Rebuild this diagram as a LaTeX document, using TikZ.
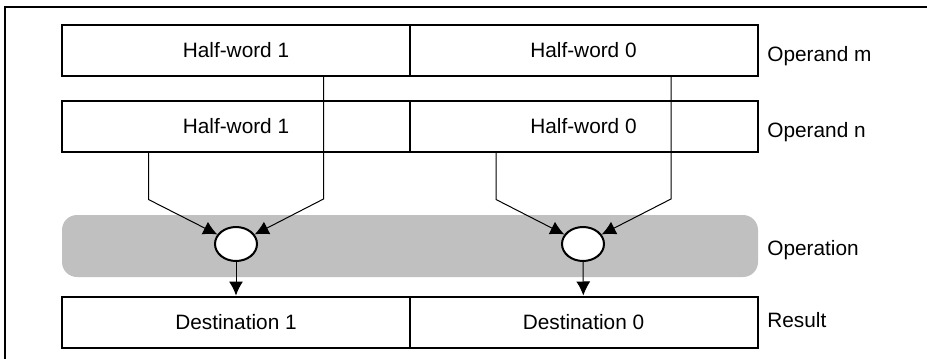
\documentclass[tikz,border=0pt]{standalone}
\usepackage{fontspec}
\setmainfont{Liberation Sans}
\usetikzlibrary{shapes.geometric,arrows.meta,calc}

\definecolor{bandgray}{HTML}{C0C0C0}

\begin{document}
\begin{tikzpicture}[x=0.5pt, y=-0.5pt,
        font=\fontsize{10.4}{12}\selectfont,
        >={Latex[length=7pt,width=7pt]},
        half/.style={draw, rectangle, line width=1pt, minimum width=174pt, minimum height=25.5pt, inner sep=0pt},
        op/.style={draw, ellipse, fill=white, line width=1pt, minimum width=21pt, minimum height=17pt, inner sep=0pt},
        tag/.style={anchor=west, inner sep=0pt}]
    \useasboundingbox (0,0) rectangle (927,359);
    \draw[line width=0.6pt] (5,359) -- (5,7) -- (927,7);

    % operation band behind the two operators
    \node (band) [fill=bandgray, rounded corners=7.5pt, minimum width=348pt, minimum height=31pt, inner sep=0pt] at (410,246) {};

    \node (m1) [half] at (236,50.5) {Half-word 1};
    \node (m0) [half] at (583.5,50.5) {Half-word 0};
    \node (n1) [half] at (236,126) {Half-word 1};
    \node (n0) [half] at (583.5,126) {Half-word 0};
    \node (d1) [half] at (236,322) {Destination 1};
    \node (d0) [half] at (583.5,322) {Destination 0};

    \node (op1) [op] at (236,244) {};
    \node (op0) [op] at (583,244) {};

    \node (lm) [tag] at (767,56) {Operand m};
    \node (ln) [tag] at (767,132) {Operand n};
    \node (lop) [tag] at (767,250) {Operation};
    \node (lres) [tag] at (767,320) {Result};

    \draw[->, line width=0.5pt] ($(n1.south west)!.25!(n1.south east)$) -- ++(0,47) -- (op1);
    \draw[->, line width=0.5pt] ($(m1.south west)!.75!(m1.south east)$) -- ++(0,122) -- (op1);
    \draw[->, line width=0.5pt] ($(n0.south west)!.25!(n0.south east)$) -- ++(0,47) -- (op0);
    \draw[->, line width=0.5pt] ($(m0.south west)!.75!(m0.south east)$) -- ++(0,122) -- (op0);
    \draw[->, line width=0.5pt] (op1) -- (d1);
    \draw[->, line width=0.5pt] (op0) -- (d0);
\end{tikzpicture}
\end{document}
